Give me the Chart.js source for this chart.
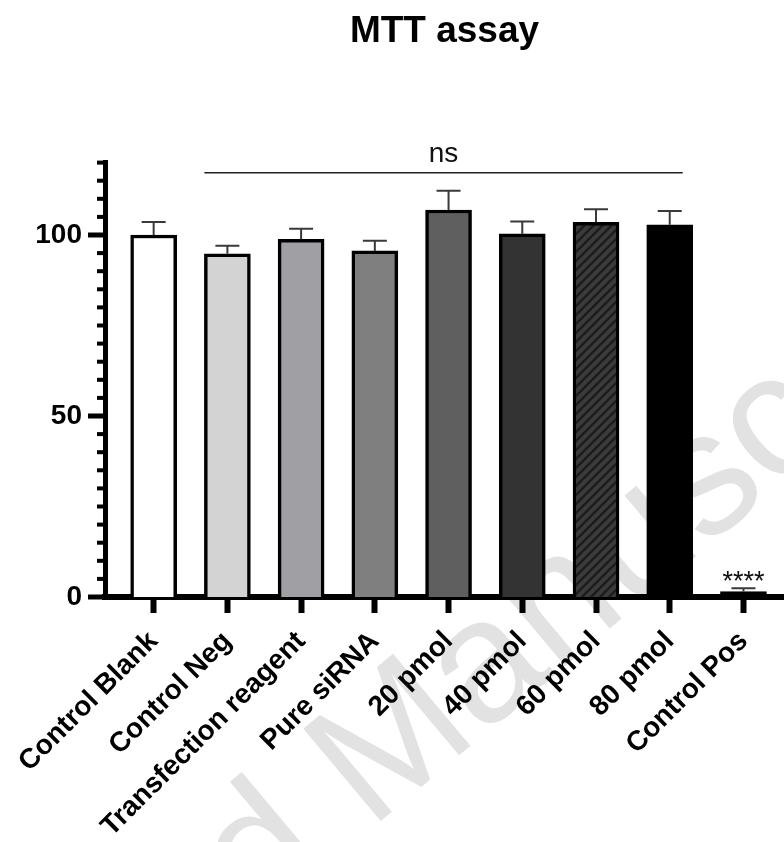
<!DOCTYPE html>
<html>
<head>
<meta charset="utf-8">
<script src="https://cdn.jsdelivr.net/npm/chart.js@4/dist/chart.umd.min.js"></script>
<style>
  html, body { margin: 0; padding: 0; background: #ffffff; }
  canvas { display: block; }
</style>
</head>
<body>
<canvas id="mtt" width="784" height="842"></canvas>
<script>
// Cell viability (% of blank control), mean with upper error bar
const groups = ['Control Blank', 'Control Neg', 'Transfection reagent', 'Pure siRNA',
                '20 pmol', '40 pmol', '60 pmol', '80 pmol', 'Control Pos'];
const viability = [100, 94.8, 98.8, 95.6, 106.9, 100.3, 103.5, 102.8, 1.5];
const errorUp   = [3.6, 2.2, 2.9, 2.8, 5.3, 3.4, 3.6, 3.8, 0.9];
const yTickValues = [0, 50, 100];
const barFills = ['#ffffff', '#d3d3d3', '#a09fa4', '#7f7f7f', '#5f5f5f', '#333333', 'hatch', '#000000', '#000000'];
const titleText = 'MTT assay';
const nsText = 'ns';
const starsText = '****';
const watermarkText = 'Accepted Manuscript';

const FONT = '"Liberation Sans", Arial, Helvetica, sans-serif';

function hatchPattern() {
  const tile = document.createElement('canvas');
  tile.width = 9; tile.height = 9;
  const g = tile.getContext('2d');
  g.fillStyle = '#3b3b3b';
  g.fillRect(0, 0, 9, 9);
  g.strokeStyle = '#1c1c1c';
  g.lineWidth = 2.4;
  g.beginPath();
  g.moveTo(-1, 10); g.lineTo(10, -1);
  g.moveTo(-1, 1); g.lineTo(1, -1);
  g.moveTo(8, 10); g.lineTo(10, 8);
  g.stroke();
  return g.createPattern(tile, 'repeat');
}

const fills = barFills.map(f => f === 'hatch' ? hatchPattern() : f);

// faint diagonal watermark behind everything
const watermark = {
  id: 'watermark',
  beforeDraw(chart) {
    const ctx = chart.ctx;
    const size = 175;
    ctx.save();
    ctx.translate(385, 735);
    ctx.rotate(-40 * Math.PI / 180);
    ctx.font = size + 'px ' + FONT;
    ctx.fillStyle = '#e2e2e2';
    ctx.textBaseline = 'alphabetic';
    ctx.fillText(watermarkText, -4.864 * size, 0.36 * size);
    ctx.restore();
  }
};

// upper error bars, y-axis tick marks, title and significance labels
const annotations = {
  id: 'annotations',
  afterDatasetsDraw(chart) {
    const ctx = chart.ctx;
    const ys = chart.scales.y;
    const bars = chart.getDatasetMeta(0).data;
    ctx.save();
    ctx.strokeStyle = '#3a3a3a';
    ctx.lineWidth = 2;
    bars.forEach((bar, i) => {
      const top = ys.getPixelForValue(viability[i] + errorUp[i]);
      ctx.beginPath();
      ctx.moveTo(bar.x, bar.y);
      ctx.lineTo(bar.x, top);
      ctx.moveTo(bar.x - 12, top);
      ctx.lineTo(bar.x + 12, top);
      ctx.stroke();
    });
    ctx.restore();
  },
  afterDraw(chart) {
    const ctx = chart.ctx;
    const ys = chart.scales.y;
    const area = chart.chartArea;
    const bars = chart.getDatasetMeta(0).data;
    ctx.save();
    // y-axis ticks: long at labelled values, short every 5 units
    ctx.fillStyle = '#000';
    for (let v = 0; v <= 120; v += 5) {
      const py = ys.getPixelForValue(v);
      const major = yTickValues.includes(v);
      const len = major ? 17 : 8;
      const w = major ? 5 : 4;
      ctx.fillRect(area.left - len, py - w / 2, len, w);
    }
    // title
    ctx.font = 'bold 37px ' + FONT;
    ctx.textAlign = 'center';
    ctx.textBaseline = 'alphabetic';
    ctx.fillText(titleText, (area.left + area.right) / 2, 42);
    // "ns" bracket over the treated groups
    const lineY = ys.getPixelForValue(117.2);
    const x0 = bars[1].x - bars[1].width / 2;
    const x1 = bars[7].x + 13;
    ctx.strokeStyle = '#222';
    ctx.lineWidth = 1.6;
    ctx.beginPath();
    ctx.moveTo(x0, lineY);
    ctx.lineTo(x1, lineY);
    ctx.stroke();
    ctx.font = '28px ' + FONT;
    ctx.fillStyle = '#111';
    ctx.fillText(nsText, (x0 + x1) / 2, lineY - 11);
    // stars over the positive control
    const last = bars.length - 1;
    const starY = ys.getPixelForValue(viability[last] + errorUp[last]);
    ctx.font = '27px ' + FONT;
    ctx.fillText(starsText, bars[last].x, starY + 2);
    ctx.restore();
  }
};

new Chart(document.getElementById('mtt'), {
  type: 'bar',
  data: {
    datasets: [{
      data: groups.map((g, i) => ({ x: i, y: viability[i] })),
      backgroundColor: fills,
      borderColor: '#000000',
      borderWidth: 3.5,
      borderSkipped: 'start',
      barThickness: 46
    }]
  },
  options: {
    responsive: false,
    animation: false,
    devicePixelRatio: 1,
    layout: { padding: { top: 162.6, left: 0, right: 0, bottom: 0 } },
    plugins: { legend: { display: false }, tooltip: { enabled: false }, title: { display: false } },
    scales: {
      x: {
        type: 'linear',
        min: -0.66,
        max: 8.55,
        offset: false,
        afterBuildTicks: s => { s.ticks = groups.map((_, i) => ({ value: i })); },
        afterFit: s => { s.height = 245; },
        border: { display: true, color: '#000', width: 6 },
        grid: { display: true, offset: false, drawOnChartArea: false, drawTicks: true, tickLength: 16, tickWidth: 6, tickColor: '#000' },
        ticks: {
          autoSkip: false, minRotation: 45, maxRotation: 45, padding: 12,
          color: '#000',
          font: { family: FONT, size: 28, weight: 'bold' },
          callback: v => groups[v]
        }
      },
      y: {
        min: 0,
        max: 120,
        afterBuildTicks: s => { s.ticks = yTickValues.map(v => ({ value: v })); },
        afterFit: s => { s.width = 105; },
        border: { display: true, color: '#000', width: 5 },
        grid: { display: false, drawTicks: false },
        ticks: {
          padding: 23,
          color: '#000',
          font: { family: FONT, size: 28, weight: 'bold' }
        }
      }
    }
  },
  plugins: [watermark, annotations]
});
</script>
</body>
</html>
